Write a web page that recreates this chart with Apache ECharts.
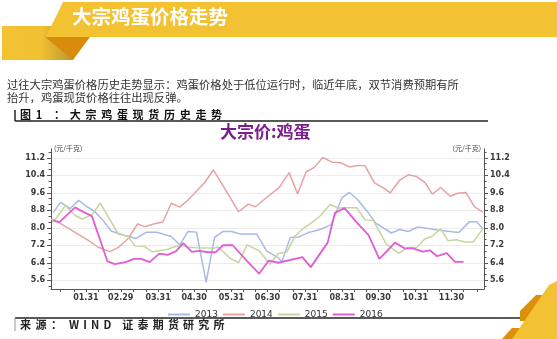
<!DOCTYPE html>
<html><head><meta charset="utf-8">
<script src="https://cdn.jsdelivr.net/npm/echarts@6/dist/echarts.min.js"></script>
<style>
html,body{margin:0;padding:0;background:#fff;}
#wrap{position:relative;width:557px;height:339px;overflow:hidden;}
#chart{position:absolute;left:0;top:0;width:557px;height:339px;}
.t{position:absolute;white-space:nowrap;font-family:"Noto Sans CJK SC",sans-serif;}
</style></head><body>
<div id="wrap">
<div id="chart"></div>
<div class="t" style="left:72px;top:6px;font-size:19.5px;line-height:20px;font-weight:bold;color:#fff;">大宗鸡蛋价格走势</div>
<div class="t" style="left:7px;top:78px;font-size:11.3px;line-height:12.5px;color:#333;">过往大宗鸡蛋价格历史走势显示：鸡蛋价格处于低位运行时，临近年底，双节消费预期有所<br>抬升，鸡蛋现货价格往往出现反弹。</div>
<div class="t" style="left:20px;top:108px;font-size:11px;line-height:12px;font-weight:bold;color:#111;letter-spacing:4.7px;">图1 ：大宗鸡蛋现货历史走势</div>
<div class="t" style="left:220px;top:122px;font-size:17px;line-height:18px;font-weight:bold;color:#7B1F8C;">大宗价:鸡蛋</div>
<div class="t" style="left:20px;top:318px;font-size:11px;line-height:12px;font-weight:bold;color:#222;letter-spacing:4.5px;">来源：</div>
<div class="t" style="left:69px;top:318px;font-size:11px;line-height:12px;font-weight:bold;color:#222;letter-spacing:4.2px;">WIND 证泰期货研究所</div>
</div>
<script>
// ---- data ----
const monthEnds = [31, 60, 91, 121, 152, 182, 213, 244, 274, 305, 335];
const monthLabels = ['01.31', '02.29', '03.31', '04.30', '05.31', '06.30', '07.31', '08.31', '09.30', '10.31', '11.30'];
const yMajor = [5.6, 6.4, 7.2, 8.0, 8.8, 9.6, 10.4, 11.2];
const seriesNames = ['2013', '2014', '2015', '2016'];

const days2013 = [4,10,18,25,32,38,45,52,62,73,81,90,102,109,116,123,131,138,145,152,159,173,181,190,194,201,208,216,226,235,244,250,257,266,272,285,292,299,307,323,341,350,356,361];
const v2013 = [8.70,9.16,8.88,9.25,8.96,8.76,8.35,7.85,7.67,7.51,7.79,7.79,7.60,7.22,7.83,7.80,5.50,7.56,7.83,7.83,7.72,7.72,6.95,6.66,6.46,7.56,7.58,7.78,7.92,8.14,9.38,9.62,9.28,8.67,8.21,7.76,7.92,7.83,8.04,7.90,7.78,8.28,8.28,7.94];

const days2014 = [2,8,16,24,33,41,51,58,66,74,80,88,95,102,109,116,130,137,148,158,166,172,181,192,200,207,214,221,228,236,243,250,257,263,271,278,284,292,299,306,313,319,326,334,340,347,354,361];
const v2014 = [8.40,8.26,7.99,7.72,7.42,7.12,6.91,7.10,7.50,8.17,8.05,8.18,8.26,9.12,8.94,9.27,10.08,10.65,9.65,8.73,9.08,8.96,9.37,9.86,10.52,9.54,10.55,10.76,11.21,10.99,10.97,10.78,10.85,10.84,10.05,9.83,9.59,10.18,10.42,10.34,10.06,9.54,9.84,9.44,9.58,9.61,8.97,8.71];

const days2015 = [3,7,14,22,28,36,43,58,66,72,80,86,92,98,104,111,116,123,138,141,151,158,165,175,184,191,198,205,213,220,226,234,241,248,256,263,270,281,291,299,306,313,319,326,332,339,346,353,361];
const v2015 = [8.23,8.48,9.02,8.56,8.40,8.59,9.12,7.71,7.60,7.16,7.14,6.90,6.95,7.00,7.12,7.20,7.12,7.08,7.07,7.12,6.60,6.41,7.22,6.95,6.33,6.82,6.89,7.62,8.02,8.28,8.55,9.06,8.90,8.92,8.92,8.36,8.33,7.24,6.84,7.10,7.10,7.50,7.61,7.95,7.41,7.45,7.35,7.35,7.95];

const days2016 = [4,9,22,28,36,49,55,64,71,77,84,92,99,106,112,119,125,133,139,145,153,166,175,183,191,211,218,226,232,238,246,256,266,275,288,296,303,311,317,323,331,338,345];
const v2016 = [8.33,8.26,8.93,8.75,8.53,6.46,6.34,6.43,6.58,6.58,6.43,6.82,6.76,6.93,7.30,6.90,6.94,6.88,6.89,7.20,7.20,6.42,5.90,6.50,6.40,6.66,6.20,6.84,7.32,8.68,8.90,8.26,7.66,6.58,7.32,7.06,7.06,6.91,6.97,6.70,6.84,6.44,6.44];

const colors = ['#A9B9E8', '#E6A3A2', '#C4D69D', '#E25CD3'];

// ---- build ----
const bounds = [0].concat(monthEnds, [366]);
const xTicks = [];
for (let i = 0; i < bounds.length - 1; i++) {
  for (let k = 1; k <= 3; k++) {
    const t = Math.round(bounds[i] + (bounds[i + 1] - bounds[i]) * k / 3);
    if (t >= 2 && t <= 362) xTicks.push(t);
  }
}
const yMinor = [];
for (let i = -1; i < yMajor.length; i++) {
  const base = i < 0 ? yMajor[0] - 0.8 : yMajor[i];
  for (let k = 1; k <= 2; k++) {
    const v = +(base + 0.8 * k / 3).toFixed(4);
    if (v > 5.2 && v < 11.6) yMinor.push(v);
  }
}
const pairs = (d, v) => d.map((x, i) => [x, v[i]]);
const allData = [pairs(days2013, v2013), pairs(days2014, v2014), pairs(days2015, v2015), pairs(days2016, v2016)];

const axisColor = '#555';
const lblStyle = {fontFamily: 'DejaVu Sans', fontSize: 8, fontWeight: 'bold', color: '#3a3a3a'};

function mainY(pos) {
  return {
    type: 'value', position: pos, min: 5.2, max: 11.6,
    axisLine: {show: true, lineStyle: {color: axisColor, width: 1}},
    axisTick: {show: true, customValues: yMajor, length: 4, lineStyle: {color: axisColor}},
    axisLabel: Object.assign({customValues: yMajor, formatter: v => v.toFixed(1), margin: 6}, lblStyle),
    splitLine: {show: pos === 'left', lineStyle: {color: '#ececec', width: 1}},
    name: '(元/千克)', nameLocation: 'end', nameGap: 1,
    nameTextStyle: {fontFamily: 'Noto Sans CJK SC', fontSize: 7, color: '#444', align: pos === 'left' ? 'left' : 'right', verticalAlign: 'middle', padding: pos === 'left' ? [0, 0, 0, 3] : [0, 3, 0, 0]}
  };
}
function minorY(pos) {
  return {
    type: 'value', position: pos, min: 5.2, max: 11.6,
    axisLine: {show: true, lineStyle: {color: axisColor, width: 1}},
    axisTick: {show: true, customValues: yMinor, length: 2.5, lineStyle: {color: axisColor}},
    axisLabel: {show: false}, splitLine: {show: false}
  };
}

const chart = echarts.init(document.getElementById('chart'), null, {renderer: 'canvas'});
chart.setOption({
  backgroundColor: 'transparent',
  animation: false,
  grid: {left: 51, top: 149, width: 433, height: 140, containLabel: false, outerBoundsMode: 'none'},
  legend: {
    data: seriesNames, left: 163, top: 305, icon: 'rect', itemWidth: 22, itemHeight: 2, itemGap: 5,
    textStyle: {fontFamily: 'DejaVu Sans', fontSize: 9, color: '#333'}
  },
  xAxis: [{
    type: 'value', min: 2, max: 362, position: 'bottom',
    axisLine: {show: true, lineStyle: {color: axisColor, width: 1}},
    axisTick: {show: true, customValues: xTicks, length: 3, lineStyle: {color: axisColor}},
    axisLabel: Object.assign({customValues: monthEnds, margin: 5, formatter: v => monthLabels[monthEnds.indexOf(v)] || ''}, lblStyle),
    splitLine: {show: false}
  }],
  yAxis: [mainY('left'), mainY('right'), minorY('left'), minorY('right')],
  series: seriesNames.map((n, i) => ({
    name: n, type: 'line', data: allData[i], showSymbol: false, symbol: 'none',
    color: colors[i], lineStyle: {color: colors[i], width: i === 3 ? 1.8 : 1.5}, z: 2 + i
  })),
  graphic: [
    {type: 'rect', shape: {x: 2, y: 26, width: 71, height: 34}, style: {fill: new echarts.graphic.LinearGradient(0, 0, 1, 0, [{offset: 0, color: '#F2C232'}, {offset: 0.55, color: '#F1C131'}, {offset: 1, color: '#BE9532'}])}, z: 1},
    {type: 'polygon', shape: {points: [[45, 37], [90, 37], [73, 60]]}, style: {fill: '#D98C0B'}, z: 2},
    {type: 'polygon', shape: {points: [[63, 2], [557, 2], [557, 37], [46, 37]]}, style: {fill: '#F2C232'}, z: 3},
    {type: 'line', shape: {x1: 15, y1: 121, x2: 488, y2: 121}, style: {stroke: '#222', lineWidth: 1.5}},
    {type: 'line', shape: {x1: 15, y1: 110, x2: 15, y2: 121}, style: {stroke: '#222', lineWidth: 1.5}},
    {type: 'line', shape: {x1: 15, y1: 318, x2: 520, y2: 318}, style: {stroke: '#222', lineWidth: 1.5}},
    {type: 'line', shape: {x1: 15, y1: 318, x2: 15, y2: 331}, style: {stroke: '#999', lineWidth: 1}},
    {type: 'polygon', shape: {points: [[520, 311], [536, 295], [556, 295], [530, 321], [520, 321]]}, style: {fill: '#DE8F0A'}, z: 4},
    {type: 'polygon', shape: {points: [[502, 339], [512, 328], [526, 328], [515, 339]]}, style: {fill: '#DE8F0A'}, z: 4},
    {type: 'polygon', shape: {points: [[549, 285], [557, 281], [557, 339], [512, 339]]}, style: {fill: '#F2C232'}, z: 5}
  ]
});
</script>
</body></html>
